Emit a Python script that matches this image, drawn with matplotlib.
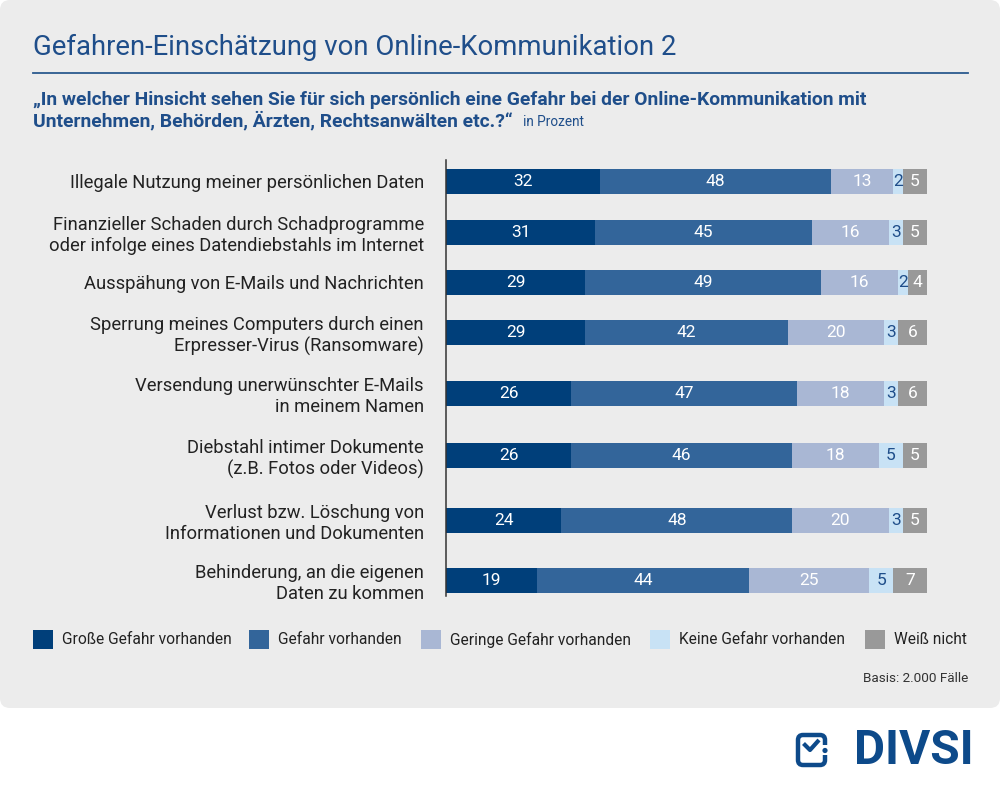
import numpy as np
import matplotlib.pyplot as plt
from matplotlib.patches import FancyBboxPatch, Rectangle, Circle

plt.rcParams['font.family'] = ['Roboto', 'DejaVu Sans']

categories = [
    "Illegale Nutzung meiner persönlichen Daten",
    "Finanzieller Schaden durch Schadprogramme\noder infolge eines Datendiebstahls im Internet",
    "Ausspähung von E-Mails und Nachrichten",
    "Sperrung meines Computers durch einen\nErpresser-Virus (Ransomware)",
    "Versendung unerwünschter E-Mails\nin meinem Namen",
    "Diebstahl intimer Dokumente\n(z.B. Fotos oder Videos)",
    "Verlust bzw. Löschung von\nInformationen und Dokumenten",
    "Behinderung, an die eigenen\nDaten zu kommen",
]
grosse = [32, 31, 29, 29, 26, 26, 24, 19]
gefahr = [48, 45, 49, 42, 47, 46, 48, 44]
geringe = [13, 16, 16, 20, 18, 18, 20, 25]
keine = [2, 3, 2, 3, 3, 5, 3, 5]
weiss = [5, 5, 4, 6, 6, 5, 5, 7]
series_names = ["Große Gefahr vorhanden", "Gefahr vorhanden", "Geringe Gefahr vorhanden",
                "Keine Gefahr vorhanden", "Weiß nicht"]

colors = ["#003f7a", "#33659a", "#a9b7d4", "#c8e2f5", "#999999"]
label_colors = ["white", "white", "white", "#1f4e8a", "white"]
blue = "#1f4e8a"

# layout (pixel rows of the bar centres)
row_y = [181, 232, 282, 332, 393, 455, 520, 580]

fig = plt.figure(figsize=(10, 7.92), dpi=100)

# decoration axes in pixel coordinates
bg = fig.add_axes([0, 0, 1, 1])
bg.set_xlim(0, 1000)
bg.set_ylim(792, 0)
bg.axis('off')
bg.add_patch(FancyBboxPatch((0, 0), 1000, 708, boxstyle="round,pad=0,rounding_size=10",
                            fc="#ececec", ec="none"))
bg.text(33, 47, "Gefahren-Einschätzung von Online-Kommunikation 2", fontsize=19.8,
        color=blue, va='center', ha='left')
bg.plot([33, 968], [73, 73], color="#2b5a8e", lw=1.3)
bg.text(33, 100, "„In welcher Hinsicht sehen Sie für sich persönlich eine Gefahr bei der Online-Kommunikation mit",
        fontsize=13.9, fontweight='bold', color=blue, va='center')
t = bg.text(33, 121, "Unternehmen, Behörden, Ärzten, Rechtsanwälten etc.?“",
            fontsize=13.9, fontweight='bold', color=blue, va='center')
fig.canvas.draw()
bb = t.get_window_extent()
x_end = bb.x1 / fig.dpi / 10 * 1000
bg.text(x_end + 10, 122, "in Prozent", fontsize=9.8, color=blue, va='center')

# legend
leg_x = [33, 249, 421, 650, 865]
for i, name in enumerate(series_names):
    bg.add_patch(Rectangle((leg_x[i], 630), 20, 19, fc=colors[i], ec="none"))
    bg.text(leg_x[i] + 29, 640, name, fontsize=11.2, color="#222222", va='center')

bg.text(968, 679, "Basis: 2.000 Fälle", fontsize=9.7, color="#333333", va='center', ha='right')

# logo
logo_c = "#0d4a8a"
bg.add_patch(FancyBboxPatch((798, 735), 27, 30, boxstyle="round,pad=0,rounding_size=5",
                            fc="none", ec=logo_c, lw=3.2))
bg.add_patch(Rectangle((818, 745), 10, 10, fc="#ffffff", ec="none"))
bg.plot([803.5, 810, 819], [743.5, 750, 740], color=logo_c, lw=3.0, solid_capstyle='butt')
bg.add_patch(Circle((825, 750.5), 2.6, fc=logo_c, ec="none"))
bg.text(974, 751, "DIVSI", fontsize=34.5, fontweight='bold', color=logo_c,
        va='center', ha='right')

# bar axes
ax = fig.add_axes([446 / 1000, 1 - 596 / 792, 481 / 1000, (596 - 160) / 792])
ax.set_xlim(0, 100)
ax.set_ylim(596, 160)
ax.set_facecolor('none')
for s in ['top', 'right', 'bottom']:
    ax.spines[s].set_visible(False)
ax.spines['left'].set_color('#333333')
ax.spines['left'].set_linewidth(1.1)
ax.set_xticks([])
ax.set_yticks(row_y)
ax.set_yticklabels(categories, fontsize=13.2, color="#222222", linespacing=1.2)
ax.tick_params(axis='y', length=0, pad=16)

data = np.array([grosse, gefahr, geringe, keine, weiss])
left = np.zeros(len(categories))
for i in range(len(series_names)):
    ax.barh(row_y, data[i], left=left, height=25, color=colors[i], edgecolor='none')
    for y, l, v in zip(row_y, left, data[i]):
        ax.text(l + v / 2, y + 0.5, str(v), ha='center', va='center',
                fontsize=12.5, color=label_colors[i])
    left += data[i]

fig.savefig("out.png", dpi=100)
